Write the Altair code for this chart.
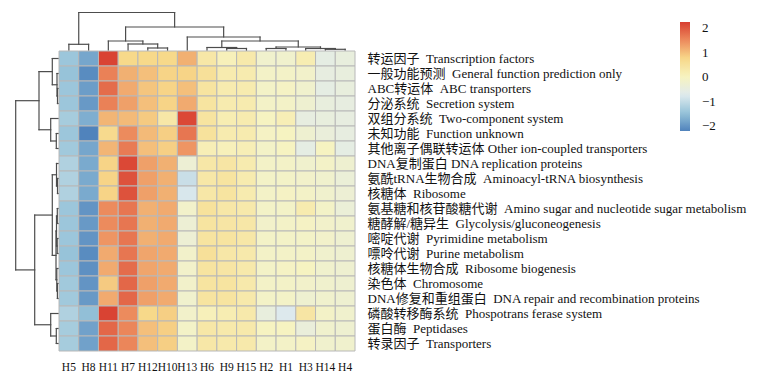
import altair as alt
import pandas as pd
import numpy as np

# ---------------- data ----------------
cols = ["H5", "H8", "H11", "H7", "H12", "H10", "H13", "H6", "H9", "H15",
        "H2", "H1", "H3", "H14", "H4"]

SP = "\u00a0\u00a0"
rows = [
    "转运因子" + SP + "Transcription factors",
    "一般功能预测" + SP + "General function prediction only",
    "ABC转运体" + SP + "ABC transporters",
    "分泌系统" + SP + "Secretion system",
    "双组分系统" + SP + "Two-component system",
    "未知功能" + SP + "Function unknown",
    "其他离子偶联转运体 Other ion-coupled transporters",
    "DNA复制蛋白 DNA replication proteins",
    "氨酰tRNA生物合成" + SP + "Aminoacyl-tRNA biosynthesis",
    "核糖体" + SP + "Ribosome",
    "氨基糖和核苷酸糖代谢" + SP + "Amino sugar and nucleotide sugar metabolism",
    "糖酵解/糖异生" + SP + "Glycolysis/gluconeogenesis",
    "嘧啶代谢" + SP + "Pyrimidine metabolism",
    "嘌呤代谢" + SP + "Purine metabolism",
    "核糖体生物合成" + SP + "Ribosome biogenesis",
    "染色体" + SP + "Chromosome",
    "DNA修复和重组蛋白" + SP + "DNA repair and recombination proteins",
    "磷酸转移酶系统" + SP + "Phospotrans ferase system",
    "蛋白酶" + SP + "Peptidases",
    "转录因子" + SP + "Transporters",
]

H5 = [-1.4, -1.45, -1.4, -1.4, -1.3, -1.4, -1.35, -1.2, -1.2, -1.2,
      -1.4, -1.4, -1.4, -1.45, -1.4, -1.35, -1.35, -1.2, -1.3, -1.3]
H8 = [-1.8, -2.1, -1.9, -1.95, -1.7, -2.2, -1.8, -1.75, -1.75, -1.75,
      -2.0, -1.95, -2.0, -2.1, -2.05, -2.0, -1.95, -1.5, -1.85, -1.85]
H11 = [2.2, 1.6, 1.8, 1.6, 1.1, 0.7, 1.1, 0.8, 0.8, 0.8,
       1.5, 1.5, 1.4, 1.2, 1.2, 0.9, 1.2, 2.2, 1.85, 1.85]
H7 = [0.75, 1.15, 1.2, 1.3, 1.05, 1.5, 1.65, 2.15, 2.05, 2.05,
      1.7, 1.7, 1.7, 1.7, 1.8, 1.85, 1.85, 1.5, 1.55, 1.55]
H12 = [0.75, 1.0, 0.95, 1.0, 0.9, 1.05, 1.0, 1.3, 1.3, 1.3,
       1.15, 1.15, 1.15, 1.25, 1.25, 1.3, 1.3, 0.75, 1.0, 1.0]
H10 = [0.75, 0.8, 0.8, 0.8, 0.35, 0.85, 0.85, 1.15, 1.15, 1.15,
       1.2, 1.2, 1.2, 1.2, 1.2, 1.2, 1.2, 0.85, 0.85, 0.85]
H13 = [1.15, 0.8, 1.0, 1.2, 2.15, 1.7, 1.4, -0.3, -0.95, -0.8,
       -0.15, -0.3, -0.3, -0.15, -0.15, -0.15, -0.2, -0.15, -0.1, -0.1]
H6 = [0.35, 0.55, 0.45, 0.45, 0.45, 0.5, 0.15, 0.35, 0.35, 0.35,
      0.5, 0.45, 0.45, 0.55, 0.45, 0.45, 0.45, 0.1, 0.35, 0.35]
H9 = [0.1, 0.25, 0.25, 0.25, 0.2, 0.25, 0.1, 0.4, 0.45, 0.45,
      0.35, 0.4, 0.45, 0.35, 0.4, 0.45, 0.45, 0.2, 0.3, 0.3]
H15 = [0.3, 0.25, 0.25, 0.25, 0.25, 0.25, 0.15, 0.25, 0.25, 0.25,
       0.3, 0.35, 0.35, 0.3, 0.3, 0.3, 0.3, 0.3, 0.3, 0.3]
H2 = [-0.2, -0.1, -0.1, -0.1, 0.0, -0.05, -0.1, -0.1, -0.1, -0.1,
      -0.1, -0.15, -0.1, -0.1, -0.1, -0.1, -0.1, -0.45, 0.0, -0.1]
H1 = [-0.2, -0.1, -0.05, -0.1, 0.15, 0.0, 0.0, -0.1, -0.1, -0.05,
      -0.1, -0.1, -0.1, -0.1, -0.05, -0.1, -0.1, -0.75, 0.0, -0.1]
H3 = [0.2, -0.15, -0.2, -0.25, -0.5, -0.25, -0.55, -0.2, -0.15, -0.1,
      0.25, -0.05, -0.1, -0.1, 0.0, -0.15, -0.25, 0.4, -0.4, -0.05]
H14 = [-0.55, -0.5, -0.55, -0.45, -0.45, -0.4, 0.0, -0.1, -0.2, -0.2,
       -0.1, -0.15, -0.15, -0.2, -0.2, -0.2, -0.2, -0.1, -0.2, -0.2]
H4 = [-0.45, -0.45, -0.45, -0.5, -0.5, -0.5, -0.55, -0.25, -0.35, -0.3,
      -0.35, -0.2, -0.25, -0.25, -0.25, -0.25, -0.25, -0.2, -0.25, -0.2]

values = {"H5": H5, "H8": H8, "H11": H11, "H7": H7, "H12": H12, "H10": H10,
          "H13": H13, "H6": H6, "H9": H9, "H15": H15, "H2": H2, "H1": H1,
          "H3": H3, "H14": H14, "H4": H4}

# column clustering: (child a, child b, merge height); "mK" = K-th merge
col_merges = [
    ("H5", "H8", 5.7),      # m0
    ("H12", "H10", 2.0),    # m1
    ("H7", "m1", 6.0),      # m2
    ("H11", "m2", 9.0),     # m3
    ("H9", "H15", 1.5),     # m4
    ("H6", "m4", 2.5),      # m5
    ("H2", "H1", 1.5),      # m6
    ("H14", "H4", 0.7),     # m7
    ("H3", "m7", 1.5),      # m8
    ("m6", "m8", 3.0),      # m9
    ("m5", "m9", 9.0),      # m10
    ("H13", "m10", 13.0),   # m11
    ("m3", "m11", 23.0),    # m12
    ("m0", "m12", 37.5),    # m13
]

# row clustering: leaves are row indices
row_merges = [
    (2, 3, 0.5),          # m0
    (1, "m0", 1.0),       # m1
    (0, "m1", 5.7),       # m2
    (5, 6, 1.7),          # m3
    (4, "m3", 7.3),       # m4
    ("m2", "m4", 19.0),   # m5
    (8, 9, 0.5),          # m6
    (7, "m6", 1.5),       # m7
    (10, 11, 0.7),        # m8
    (12, 13, 0.8),        # m9
    ("m8", "m9", 1.5),    # m10
    (15, 16, 0.6),        # m11
    (14, "m11", 1.2),     # m12
    ("m10", "m12", 2.0),  # m13
    ("m7", "m13", 5.7),   # m14
    (18, 19, 1.7),        # m15
    (17, "m15", 7.3),     # m16
    ("m14", "m16", 23.3), # m17
    ("m5", "m17", 42.3),  # m18
]

palette = ["#5083BC", "#96C3D9", "#E0EBEE", "#F7F3BF", "#F7D889", "#EC8A5C", "#D83E30"]
cdomain = [-2.2, 2.25]

FONT = "Liberation Serif, Noto Sans CJK SC"
W, H = 296, 300


def dendro_segments(merges, leaves):
    pos = {leaf: (i + 0.5, 0.0) for i, leaf in enumerate(leaves)}
    segs = []
    for k, (a, b, h) in enumerate(merges):
        ca, ha = pos[a]
        cb, hb = pos[b]
        segs.append((ca, ha, ca, h))
        segs.append((cb, hb, cb, h))
        segs.append((ca, h, cb, h))
        pos[f"m{k}"] = ((ca + cb) / 2.0, h)
    return pd.DataFrame(segs, columns=["p", "h", "p2", "h2"])


df = pd.DataFrame([{"row": rows[i], "col": c, "v": values[c][i]}
                   for c in cols for i in range(len(rows))])
cdf = dendro_segments(col_merges, cols)
rdf = dendro_segments(row_merges, list(range(len(rows))))

heat = alt.Chart(df).mark_rect(stroke="#B8B8B8", strokeWidth=1).encode(
    x=alt.X("col:N", sort=cols, title=None,
            axis=alt.Axis(orient="bottom", labelAngle=0, ticks=False, domain=False,
                          labelFont=FONT, labelFontSize=11.5, labelColor="#111111",
                          labelPadding=10)),
    y=alt.Y("row:N", sort=rows, title=None,
            axis=alt.Axis(orient="right", ticks=False, domain=False, labelFont=FONT,
                          labelFontSize=13, labelColor="#111111", labelPadding=12,
                          labelLimit=0)),
    color=alt.Color("v:Q", title=None,
                    scale=alt.Scale(domain=cdomain, range=palette, interpolate="rgb"),
                    legend=alt.Legend(orient="none", legendX=621, legendY=-29,
                                      direction="vertical", gradientLength=109,
                                      gradientThickness=10, gradientStrokeWidth=0,
                                      values=[-2, -1, 0, 1, 2], labelFont=FONT,
                                      labelFontSize=13, labelColor="#111111",
                                      labelOffset=12)),
)

coldendro = alt.Chart(cdf).mark_rule(color="#4D4D4D", strokeWidth=1.2, strokeCap="square").encode(
    x=alt.X("p:Q", scale=alt.Scale(domain=[0, len(cols)], nice=False, zero=False), axis=None),
    x2="p2:Q",
    y=alt.Y("h:Q", scale=alt.Scale(domain=[0, 40], range=[-1, -41], nice=False, zero=False), axis=None),
    y2="h2:Q",
)

rowdendro = alt.Chart(rdf).mark_rule(color="#4D4D4D", strokeWidth=1.2, strokeCap="square").encode(
    y=alt.Y("p:Q", scale=alt.Scale(domain=[0, len(rows)], range=[0, H], nice=False, zero=False), axis=None),
    y2="p2:Q",
    x=alt.X("h:Q", scale=alt.Scale(domain=[0, 45], range=[-1, -46], nice=False, zero=False), axis=None),
    x2="h2:Q",
)

chart = alt.layer(heat, coldendro, rowdendro).resolve_scale(
    x="independent", y="independent"
).properties(
    width=W, height=H,
    autosize=alt.AutoSizeParams(type="none"),
    padding={"left": 51, "top": 43, "right": 407, "bottom": 26},
    background="white",
).configure_view(strokeWidth=0)

chart.save("out.html", embed_options={"renderer": "svg", "actions": False})
